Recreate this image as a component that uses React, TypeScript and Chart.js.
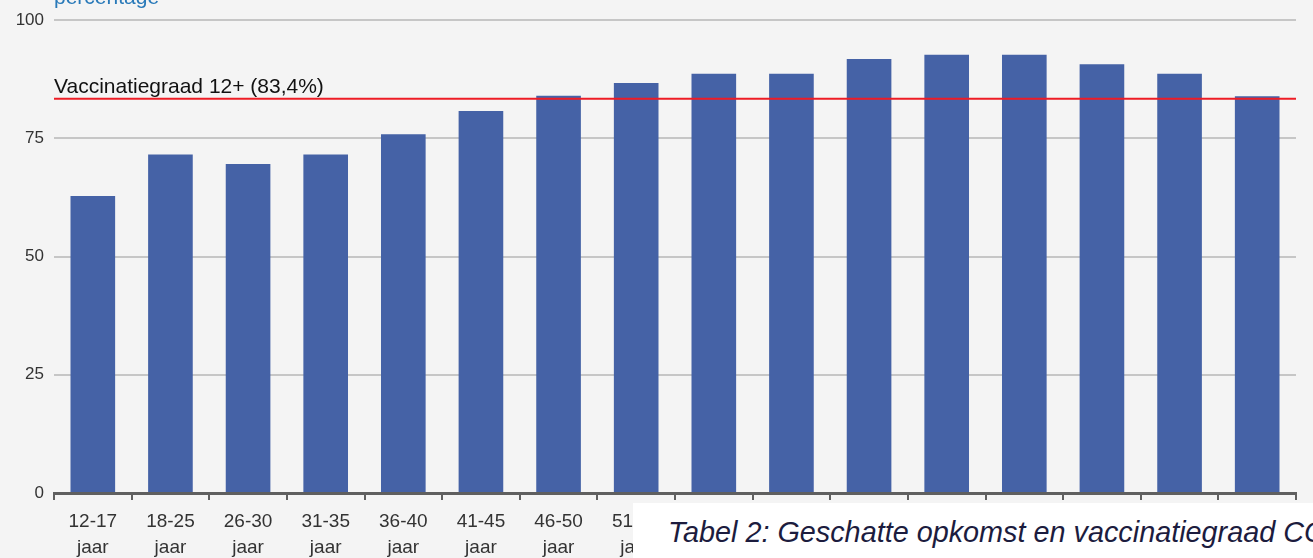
import React, { useEffect, useRef } from "react";
import { Chart, registerables } from "chart.js";

Chart.register(...registerables);

const ageGroups = [
  "12-17", "18-25", "26-30", "31-35", "36-40", "41-45", "46-50", "51-55",
  "56-60", "61-65", "66-70", "71-75", "76-80", "81-85", "86-90", "91+",
];
const unitLabel = "jaar";
const vaccinationRate = [
  62.8, 71.6, 69.6, 71.6, 75.9, 80.8, 84.0, 86.7,
  88.7, 88.7, 91.8, 92.7, 92.7, 90.7, 88.7, 83.9,
];
const overallRate = 83.4;
const overallLabel = "Vaccinatiegraad 12+ (83,4%)";
const yTicks = [0, 25, 50, 75, 100];
const yAxisTitle = "percentage";
const captionText = "Tabel 2: Geschatte opkomst en vaccinatiegraad CO";

const W = 1313;
const H = 558;

const refLinePlugin = {
  id: "refLine",
  afterDatasetsDraw(chart: any) {
    const { ctx, chartArea, scales } = chart;
    const y = scales.y.getPixelForValue(overallRate);
    ctx.save();
    ctx.strokeStyle = "#ee1c25";
    ctx.lineWidth = 2;
    ctx.beginPath();
    ctx.moveTo(chartArea.left, y);
    ctx.lineTo(chartArea.right, y);
    ctx.stroke();
    ctx.fillStyle = "#111111";
    ctx.font = "21px 'Liberation Sans', Arial, sans-serif";
    ctx.textAlign = "left";
    ctx.textBaseline = "alphabetic";
    ctx.fillText(overallLabel, chartArea.left, y - 6);
    ctx.restore();
  },
};

export default function App() {
  const canvasRef = useRef<HTMLCanvasElement | null>(null);

  useEffect(() => {
    const canvas = canvasRef.current;
    if (!canvas) return;
    const chart = new Chart(canvas, {
      type: "bar",
      data: {
        labels: ageGroups.map((g) => [g, unitLabel]),
        datasets: [
          {
            data: vaccinationRate,
            backgroundColor: "#4562a6",
            borderWidth: 0,
            barPercentage: 0.575,
            categoryPercentage: 1,
          },
        ],
      },
      options: {
        animation: false,
        responsive: false,
        devicePixelRatio: 1,
        layout: { padding: { top: 20, right: 17, left: 0, bottom: 0 } },
        plugins: {
          legend: { display: false },
          tooltip: { enabled: false },
        },
        scales: {
          y: {
            min: 0,
            max: 100,
            afterFit: (s: any) => {
              s.width = 54;
            },
            afterBuildTicks: (s: any) => {
              s.ticks = yTicks.map((v) => ({ value: v }));
            },
            ticks: {
              color: "#333333",
              padding: 10,
              font: { family: "'Liberation Sans', Arial, sans-serif", size: 17 },
            },
            grid: {
              color: (c: any) => (c.tick && c.tick.value === 0 ? "rgba(0,0,0,0)" : "#c6c6c6"),
              lineWidth: 2,
              drawTicks: false,
            },
            border: { display: false },
          },
          x: {
            afterFit: (s: any) => {
              s.height = 65;
            },
            ticks: {
              color: "#333333",
              padding: 9,
              maxRotation: 0,
              autoSkip: false,
              font: {
                family: "'Liberation Sans', Arial, sans-serif",
                size: 19,
                lineHeight: 1.36,
              },
            },
            grid: {
              offset: true,
              drawOnChartArea: false,
              color: "#5f5f5f",
              lineWidth: 2,
              tickLength: 7,
            },
            border: { display: true, color: "#5f5f5f", width: 3 },
          },
        },
      },
      plugins: [refLinePlugin],
    });
    return () => chart.destroy();
  }, []);

  return (
    <div
      style={{
        position: "fixed",
        left: 0,
        top: 0,
        width: W,
        height: H,
        background: "#f4f4f4",
        overflow: "hidden",
      }}
    >
      <canvas ref={canvasRef} width={W} height={H} style={{ position: "absolute", left: 0, top: 0 }} />
      <div
        style={{
          position: "absolute",
          left: 54,
          top: -13,
          fontFamily: "'Liberation Sans', Arial, sans-serif",
          fontSize: 21,
          lineHeight: "20px",
          color: "#2a7ab9",
          whiteSpace: "nowrap",
        }}
      >
        {yAxisTitle}
      </div>
      <div
        style={{
          position: "absolute",
          left: 633,
          top: 503,
          right: 0,
          bottom: 0,
          background: "#ffffff",
          overflow: "hidden",
        }}
      >
        <div
          style={{
            position: "absolute",
            left: 35,
            top: 14,
            fontFamily: "'Liberation Sans', Arial, sans-serif",
            fontStyle: "italic",
            fontSize: 28.8,
            lineHeight: "30px",
            color: "#1c1c3e",
            whiteSpace: "nowrap",
          }}
        >
          {captionText}
        </div>
      </div>
    </div>
  );
}
